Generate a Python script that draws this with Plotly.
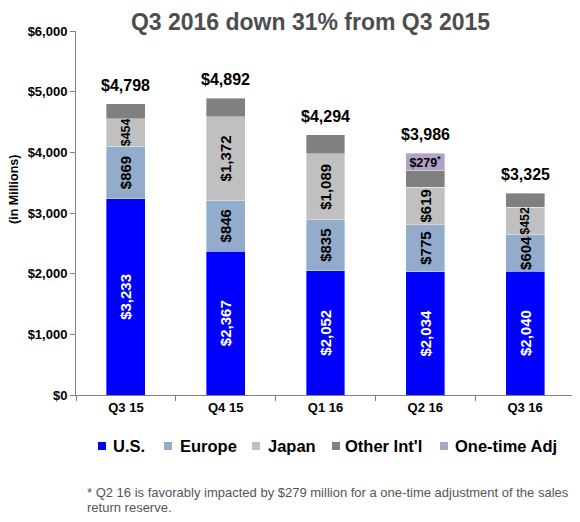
import plotly.graph_objects as go

quarters = ["Q3 15", "Q4 15", "Q1 16", "Q2 16", "Q3 16"]
us = [3233, 2367, 2052, 2034, 2040]
europe = [869, 846, 835, 775, 604]
japan = [454, 1372, 1089, 619, 452]
other_intl = [242, 307, 318, 279, 229]
one_time_adj = [None, None, None, 279, None]
totals = [4798, 4892, 4294, 3986, 3325]

series_names = ["U.S.", "Europe", "Japan", "Other Int'l", "One-time Adj"]
series_colors = ["#0000FF", "#93ACCB", "#C0C0C0", "#808080", "#B3A2C7"]

FONT = "Liberation Sans, Arial, sans-serif"

# page has an 8px body margin, so the figure is 8px smaller than the window
W, H = 572, 514
L, R, T, B = 68, 5, 23, 127
PW, PH = W - L - R, H - T - B


def px(x):
    return (x - L) / PW


def py(y):
    return (H - B - y) / PH


fig = go.Figure()
edge = dict(color="rgba(255,255,255,0.6)", width=0.6)


def seg(name, color, vals, text_color="black", angle=-90, size=15, template="$%{y:,}"):
    fig.add_trace(go.Bar(
        name=name, x=quarters, y=vals, marker=dict(color=color, line=edge),
        texttemplate=template, textposition="inside" if template else "none",
        insidetextanchor="middle", textangle=angle, constraintext="none",
        textfont=dict(color=text_color, size=size, family=FONT, weight="bold"),
        showlegend=False))


seg("U.S.", series_colors[0], us, text_color="white")
seg("Europe", series_colors[1], europe)
# the thin Japan segments get a smaller label, as in the source
seg("Japan", series_colors[2], japan, size=[12.5, 15, 15, 15, 12.5])
seg("Other Int'l", series_colors[3], other_intl, template=None)
seg("One-time Adj", series_colors[4], one_time_adj, angle=0, size=12.5,
    template="$%{y:,}<sup>*</sup>")

# totals above each stack
for q, t in zip(quarters, totals):
    fig.add_annotation(x=q, y=t, text=f"${t:,}", showarrow=False, yanchor="bottom", yshift=8,
                       font=dict(size=16, family=FONT, color="black", weight="bold"))

fig.update_layout(
    width=W, height=H,
    barmode="stack", bargap=0.61,
    plot_bgcolor="white", paper_bgcolor="white",
    margin=dict(l=L, r=R, t=T, b=B),
    font=dict(family=FONT, color="black"),
    showlegend=False,
    title=dict(text="Q3 2016 down 31% from Q3 2015", x=302.5 / W, xanchor="center",
               y=1 - 14 / H, yanchor="middle",
               font=dict(size=23, color="#4D4D4D", family=FONT, weight="bold")),
)

fig.update_xaxes(range=[-0.5, 4.5], showline=True, linecolor="#808080", linewidth=1,
                 ticks="outside", tickson="boundaries", ticklen=5, tickcolor="#808080",
                 tickfont=dict(size=13, family=FONT, weight="bold"), showgrid=False)
fig.update_yaxes(range=[0, 6000], dtick=1000, tickprefix="$", tickformat=",",
                 showline=True, linecolor="#808080", linewidth=1, ticks="outside", ticklen=5,
                 tickcolor="#808080", showgrid=False, zeroline=False,
                 tickfont=dict(size=13, family=FONT, weight="bold"))

fig.add_annotation(text="(in Millions)", xref="paper", yref="paper", x=px(6), y=py(182),
                   textangle=-90, showarrow=False, xanchor="center", yanchor="middle",
                   font=dict(size=12.5, family=FONT, weight="bold"))

# legend row
sq_left = [90, 156, 244, 324, 432]
txt_left = [103, 170, 258, 335, 445]
for name, color, sx, tx in zip(series_names, series_colors, sq_left, txt_left):
    fig.add_shape(type="rect", xref="paper", yref="paper", x0=px(sx), x1=px(sx + 8),
                  y0=py(442), y1=py(434), fillcolor=color, line=dict(width=0))
    fig.add_annotation(text=name, xref="paper", yref="paper", x=px(tx), y=py(438),
                       showarrow=False, xanchor="left", yanchor="middle",
                       font=dict(size=16.5, family=FONT, color="black", weight="bold"))

foot = ["* Q2 16 is favorably impacted by $279 million for a one-time adjustment of the sales",
        "return reserve."]
for i, line in enumerate(foot):
    fig.add_annotation(text=line, xref="paper", yref="paper", x=px(77), y=py(484 + 15 * i),
                       showarrow=False, xanchor="left", yanchor="middle",
                       font=dict(size=13, family=FONT, color="#555555"))

fig.write_html("out.html")
